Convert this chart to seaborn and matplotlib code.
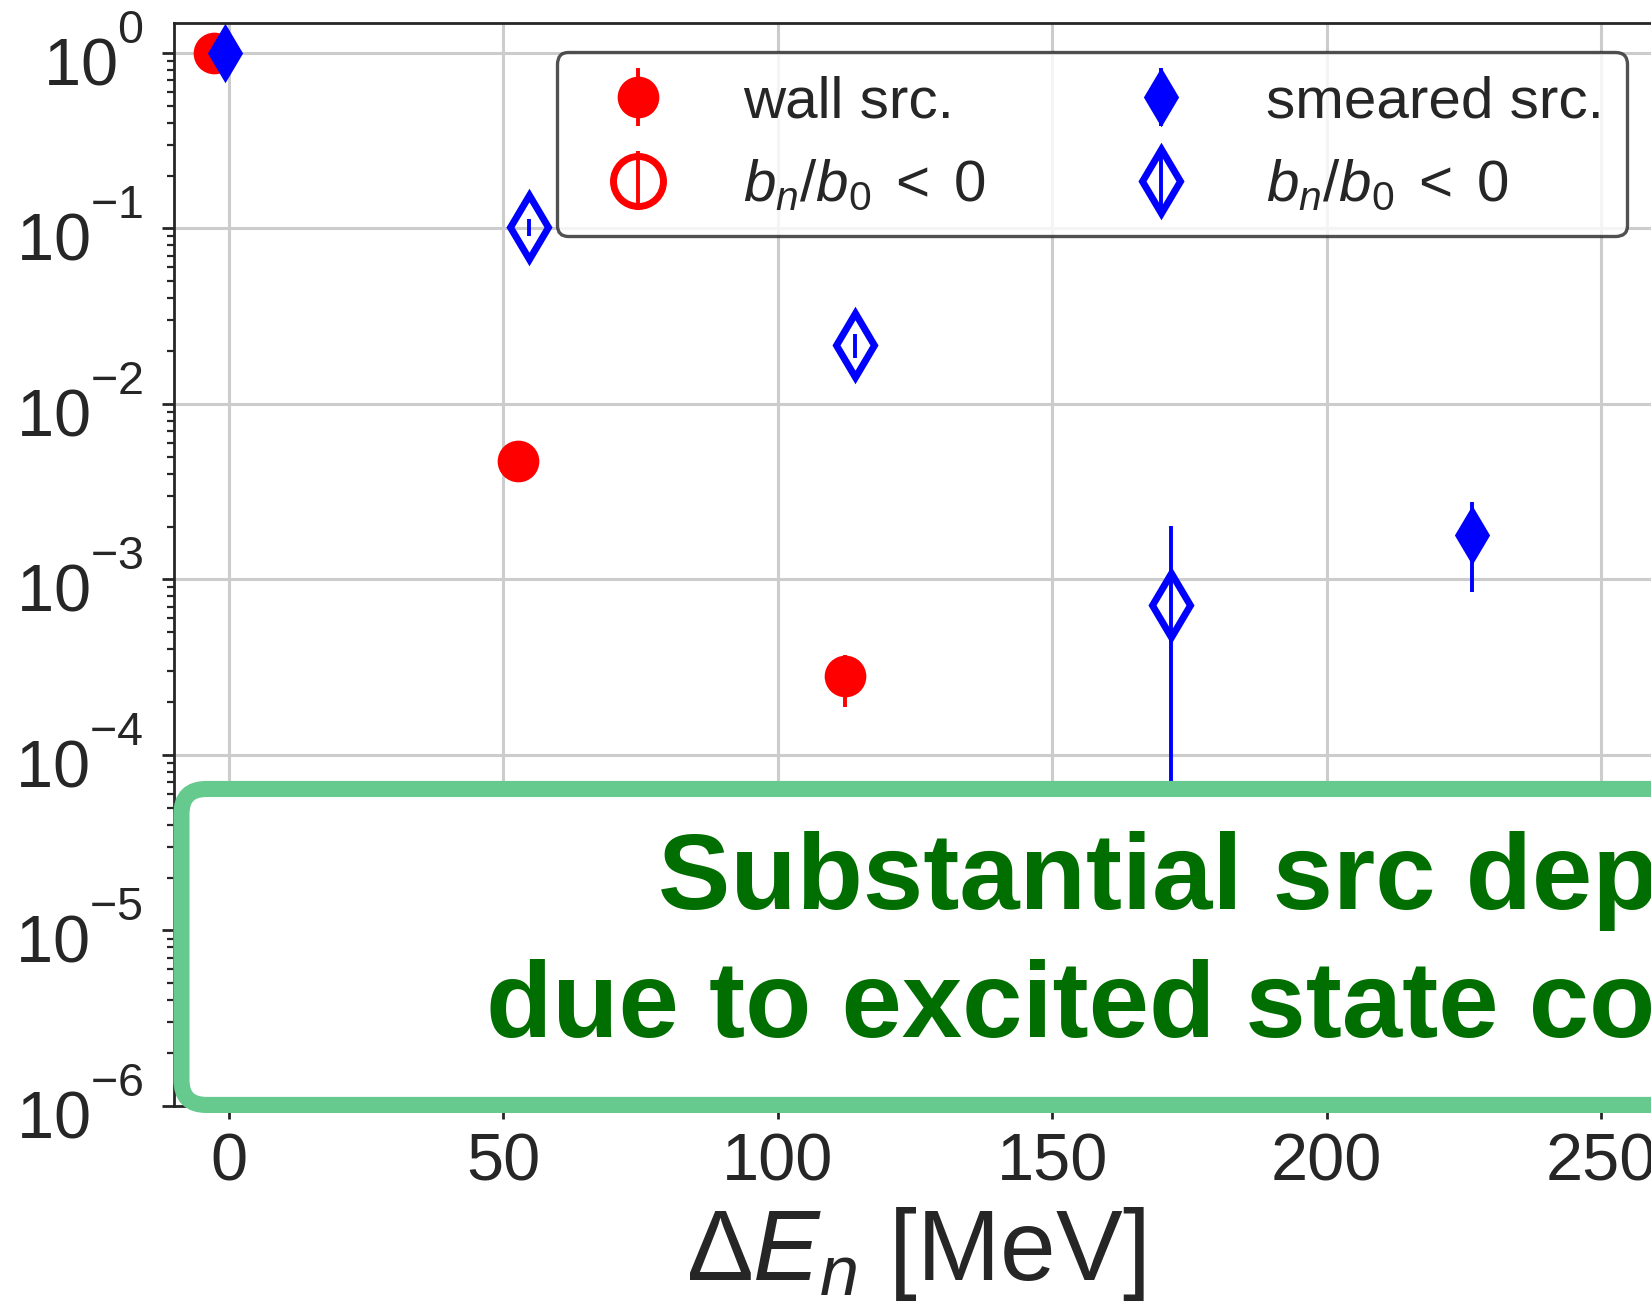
import matplotlib
matplotlib.use("Agg")
import matplotlib.pyplot as plt
from matplotlib.patches import FancyBboxPatch
import seaborn as sns

# ratio of excited-state amplitude |b_n/b_0| vs energy gap (MeV)
wall_x = [-2.8, 52.6, 112.2]
wall_y = [1.0, 4.75e-3, 2.80e-4]
wall_err = [0.01, 3.0e-4, 0.93e-4]

# wall src. with b_n/b_0 < 0 (no points in this range)
wall_neg_x = []
wall_neg_y = []
wall_neg_err = []

smear_x = [-0.8, 226.4]
smear_y = [1.0, 1.80e-3]
smear_err = [0.01, 0.95e-3]

smear_neg_x = [54.6, 114.1, 171.7]
smear_neg_y = [0.102, 0.0216, 7.19e-4]
smear_neg_err = [0.011, 0.0034, 1.30e-3]

x_ticks = [0, 50, 100, 150, 200, 250]

sns.set_style("whitegrid", {"xtick.bottom": True, "ytick.left": True,
                            "axes.edgecolor": ".15", "grid.color": ".8"})
plt.rcParams['font.family'] = ['Liberation Sans', 'DejaVu Sans']
plt.rcParams['mathtext.fontset'] = 'custom'
plt.rcParams['mathtext.rm'] = 'Liberation Sans'
plt.rcParams['mathtext.it'] = 'Liberation Sans:italic'
plt.rcParams['mathtext.bf'] = 'Liberation Sans:bold'

# raise superscripts a bit more (10^{-n} tick labels sit higher in the original)
try:
    import matplotlib._mathtext as _mt
    _mt.FontConstantsBase.sup1 = 1.2
except Exception:
    pass

fig = plt.figure(figsize=(8.255, 6.515), dpi=200)
ax = fig.add_axes([0.1054, 0.1512, 0.8976, 0.8311])

ax.errorbar(wall_x, wall_y, yerr=wall_err, fmt='o', color='red', ms=14,
            elinewidth=1.4, capsize=0, label='wall src.')
ax.errorbar(wall_neg_x, wall_neg_y, yerr=wall_neg_err, fmt='o', color='red',
            mfc='none', mec='red', mew=2.5, ms=18, elinewidth=1.4, capsize=0,
            label=r'$b_n/b_0\;<\;0$')
ax.errorbar(smear_x, smear_y, yerr=smear_err, fmt='d', color='blue', ms=13.5,
            elinewidth=1.4, capsize=0, label='smeared src.')
ax.errorbar(smear_neg_x, smear_neg_y, yerr=smear_neg_err, fmt='d', color='blue',
            mfc='none', mec='blue', mew=2.5, ms=16.5, elinewidth=1.4, capsize=0,
            label=r'$b_n/b_0\;<\;0$')

ax.set_yscale('log')
ax.set_ylim(1e-6, 1.48)
ax.set_xlim(-10, 260)
ax.set_xticks(x_ticks)
ax.grid(True, which='major', color='.8', linewidth=1.1)
for s in ax.spines.values():
    s.set_linewidth(1.0)
    s.set_color('.15')

ax.tick_params(axis='x', which='major', labelsize=24, length=4.5, width=1.0,
               pad=5, colors='.15')
ax.tick_params(axis='y', which='major', labelsize=24, length=4.5, width=1.0,
               pad=6.5, colors='.15')
ax.tick_params(axis='y', which='minor', length=2.6, width=0.8, colors='.15')
ax.set_xlabel(r'$\Delta E_n$ [MeV]', fontsize=36, color='.15', labelpad=4)

leg = ax.legend(loc='upper right', ncol=2, fontsize=21, frameon=True,
                fancybox=True, framealpha=0.8)
leg.get_frame().set_edgecolor('.15')
leg.get_frame().set_linewidth(1.2)
for t in leg.get_texts():
    t.set_color('.15')

# annotation box drawn over the axes
box = FancyBboxPatch((0.1099, 0.1520), 1.0, 0.2425,
                     boxstyle='round,pad=0,rounding_size=0.0151',
                     mutation_aspect=1651 / 1303,
                     transform=fig.transFigure, fc='white', ec='#66c98e',
                     lw=5.8, zorder=5)
fig.add_artist(box)
fig.text(0.2944, 0.2038, 'Substantial src dependence\ndue to excited state contamination',
         transform=fig.transFigure, ha='left', va='baseline', multialignment='center',
         fontsize=39, fontweight='bold', color='#006e00', linespacing=1.36, zorder=6)

fig.savefig('out.png', dpi=200)
